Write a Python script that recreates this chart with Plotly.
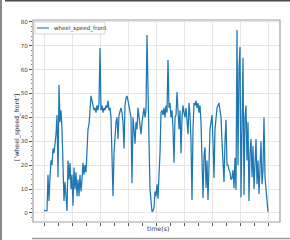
import plotly.graph_objects as go

# wheel speed samples (one per time step)
wheel_speed_front = [
    1, 1, 1, 1, 16, 5, 15, 22, 20, 27, 25, 29, 33, 41, 15, 53.5, 38, 43, 35, 20,
    5, 13, 4, 0.8, 22, 14, 21, 10, 16, 3, 19, 10, 17, 7, 14, 7, 16, 9, 14, 21,
    16, 20, 17, 31, 35, 37, 46, 49, 47, 45, 43, 44, 42, 45, 43, 46, 69, 43, 45, 42,
    44, 43, 45, 44, 47, 43, 44, 40, 25, 7, 25, 32, 38, 40, 31, 41, 43, 44, 42, 38,
    27, 45, 48, 49, 47, 45, 43, 40, 12.5, 40, 35, 29, 38, 35, 44, 40, 37, 33, 38, 41,
    44, 40, 43, 74.5, 40, 30, 10, 3, 0.5, 1, 2, 9, 7, 12, 6, 16, 25, 42, 43, 41,
    44, 40, 45, 42, 64, 44, 46, 40, 43, 35, 21, 40, 41, 50.6, 40, 35, 43, 25, 40, 45,
    42, 40, 44, 38, 33, 46, 41, 30, 5.4, 35, 46, 45, 47, 44, 46, 42, 45, 38, 21, 6.3,
    24, 27.5, 10.5, 22, 5.4, 20, 35, 38, 41, 30, 14.6, 35, 42, 44, 45, 46, 43, 40, 30, 20,
    13, 30, 39, 20, 20, 18, 17, 14, 14.6, 18, 10.4, 23, 9.6, 76.6, 20, 60, 69.5, 6.5, 45, 65,
    7.5, 40, 45, 22, 38, 5, 25, 31, 15, 28, 10, 25, 31, 12, 22, 8, 20, 30, 12, 18,
    40, 15, 10, 3, 0.5,
]
time_s = list(range(len(wheel_speed_front)))

W, H = 290, 240
L, R, T, B = 33, 10, 20, 18
PW, PH = W - L - R, H - T - B


def px(x):
    return (x - L) / PW


def py(y):
    return (H - B - y) / PH


fig = go.Figure()
fig.add_trace(go.Scatter(
    x=time_s, y=wheel_speed_front, mode="lines",
    line=dict(color="#1f77b4", width=1.25), name="wheel_speed_front",
    showlegend=False,
))

tickfont = dict(family="DejaVu Sans", size=5.6, color="#444")
fig.update_layout(
    width=W, height=H,
    margin=dict(l=L, r=R, t=T, b=B, pad=0),
    paper_bgcolor="white", plot_bgcolor="white",
    xaxis=dict(
        range=[-11, 236], dtick=28, tick0=0, showticklabels=False,
        ticks="outside", ticklen=3, tickcolor="#555", tickwidth=0.8,
        showgrid=True, gridcolor="#e6e6e6", gridwidth=0.8, zeroline=False,
        showline=False,
        minor=dict(dtick=14, tick0=0, ticks="outside", ticklen=3,
                   tickcolor="#555", showgrid=False),
    ),
    yaxis=dict(
        range=[-3.77, 80.75], dtick=10, tick0=0, tickfont=tickfont,
        ticks="outside", ticklen=3, tickcolor="#555", tickwidth=0.8,
        showgrid=True, gridcolor="#e6e6e6", gridwidth=0.8, zeroline=False,
        showline=False,
        minor=dict(dtick=2, ticks="outside", ticklen=1.5, tickcolor="#777",
                   showgrid=False),
    ),
    showlegend=False,
)

shapes = [
    # plot frame
    dict(type="rect", xref="paper", yref="paper", x0=0, x1=1, y0=0, y1=1,
         line=dict(color="#a0a0a0", width=1.2)),
    # legend box
    dict(type="rect", xref="paper", yref="paper", x0=px(35), x1=px(105),
         y0=py(34), y1=py(22), line=dict(color="#d0d0d0", width=0.8),
         fillcolor="white"),
    dict(type="line", xref="paper", yref="paper", x0=px(37), x1=px(49),
         y0=py(28), y1=py(28), line=dict(color="#1f77b4", width=1.1)),
    # screenshot frame decorations
    dict(type="line", xref="paper", yref="paper", x0=px(5), x1=px(290),
         y0=py(0.8), y1=py(0.8), line=dict(color="#4a4a4a", width=1.6)),
    dict(type="rect", xref="paper", yref="paper", x0=px(0), x1=px(2),
         y0=py(240), y1=py(0), line=dict(width=0), fillcolor="#888888"),
    dict(type="line", xref="paper", yref="paper", x0=px(32), x1=px(290),
         y0=py(238.5), y1=py(238.5), line=dict(color="#9a9a9a", width=1.5)),
]
fig.update_layout(shapes=shapes)

annotations = [
    dict(text="wheel_speed_front", xref="paper", yref="paper", x=px(52), y=py(28),
         xanchor="left", yanchor="middle", showarrow=False,
         font=dict(family="DejaVu Sans", size=5.6, color="#333")),
    dict(text="time(s)", xref="paper", yref="paper", x=px(158), y=py(228),
         xanchor="center", yanchor="middle", showarrow=False,
         font=dict(family="DejaVu Sans", size=6.3, color="#333")),
    dict(text="['wheel_speed_front']", xref="paper", yref="paper", x=px(17),
         y=py(128), xanchor="center", yanchor="middle", showarrow=False,
         textangle=-90, font=dict(family="DejaVu Sans", size=6.3, color="#333")),
]
fig.update_layout(annotations=annotations)

fig.write_html("out.html")
